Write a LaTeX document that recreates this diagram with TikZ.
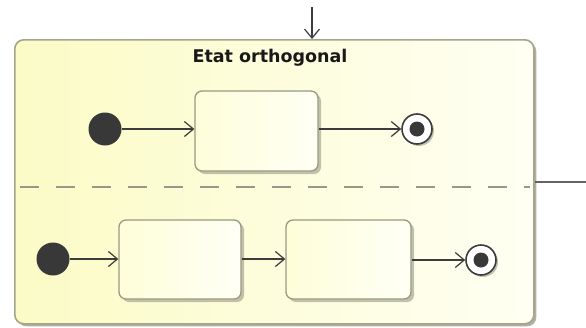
\documentclass[tikz,border=0pt]{standalone}
\usepackage{fontspec}
\newfontfamily\titlefont{DejaVu Sans}
\usetikzlibrary{arrows.meta,shadows}
\definecolor{outeredge}{HTML}{A4A48A}
\definecolor{boxedge}{HTML}{9A9A7E}
\definecolor{outerleft}{HTML}{FBFBC6}
\definecolor{outerright}{HTML}{FFFFF3}
\definecolor{stateleft}{HTML}{FEFEDA}
\definecolor{stateright}{HTML}{FFFFF5}
\definecolor{shadowc}{HTML}{A8A898}
\definecolor{linec}{HTML}{3C3C3C}
\definecolor{dotc}{HTML}{383838}
\definecolor{dashc}{HTML}{98988A}
\begin{document}
\begin{tikzpicture}[x=1pt,y=-1pt,
  outerbox/.style={draw=outeredge,line width=1.6pt,rounded corners=9pt,
    left color=outerleft,right color=outerright,inner sep=0pt,
    minimum width=519pt,minimum height=284pt,
    drop shadow={shadow xshift=2.5pt,shadow yshift=-2.5pt,fill=shadowc,opacity=0.9}},
  stbox/.style={draw=boxedge,line width=1.3pt,rounded corners=7pt,
    left color=stateleft,right color=stateright,inner sep=0pt,
    drop shadow={shadow xshift=3pt,shadow yshift=-3pt,fill=shadowc,opacity=0.7}},
  initst/.style={circle,fill=dotc,inner sep=0pt,minimum size=33pt},
  finalst/.style={circle,draw=linec,line width=1.6pt,fill=white,inner sep=0pt,
    minimum size=30pt,
    path picture={\fill[dotc] (path picture bounding box.center) circle (7.5pt);},
    drop shadow={shadow xshift=2pt,shadow yshift=-2pt,fill=shadowc,opacity=0.7}},
  arr/.style={draw=linec,line width=1.2pt,
    -{Straight Barb[length=9pt,width=15pt,line width=1.2pt]}},
  plainline/.style={draw=linec!80,line width=1.4pt},
  dashline/.style={draw=dashc,line width=2pt,dash pattern=on 19pt off 17pt},
  titlest/.style={font=\titlefont\bfseries\fontsize{17.5}{20}\selectfont,text=black!90,anchor=base,inner sep=0pt}
  ]
\useasboundingbox (0,0) rectangle (586,327);
\fill[white] (0,0) rectangle (586,327);

\node[outerbox,anchor=north west] (outer) at (14,39) {};
\node[titlest] (title) at (270,62) {Etat orthogonal};

\coordinate (topin) at (312,7);
\draw[arr] (topin) -- (topin |- outer.north);
\coordinate (rightend) at (586,182);
\draw[plainline] (outer.east |- rightend) -- (rightend);

\coordinate (d1) at (20,187);
\coordinate (d2) at (530,187);
\draw[dashline] (d1) -- (d2);

% upper region
\node[initst] (init1) at (105,129) {};
\node[stbox,minimum width=123pt,minimum height=80pt] (s1) at (256.5,131) {};
\node[finalst] (final1) at (417,129) {};
\draw[arr] (init1) -- (init1 -| s1.west);
\draw[arr] (s1.east |- final1) -- (final1);

% lower region
\node[initst] (init2) at (53,259) {};
\node[stbox,minimum width=122pt,minimum height=79pt] (s2) at (180,259.5) {};
\node[stbox,minimum width=125pt,minimum height=79pt] (s3) at (348.5,259.5) {};
\node[finalst] (final2) at (481,260) {};
\draw[arr] (init2) -- (init2 -| s2.west);
\draw[arr] (s2.east |- init2) -- (init2 -| s3.west);
\draw[arr] (s3.east |- final2) -- (final2);
\end{tikzpicture}
\end{document}
